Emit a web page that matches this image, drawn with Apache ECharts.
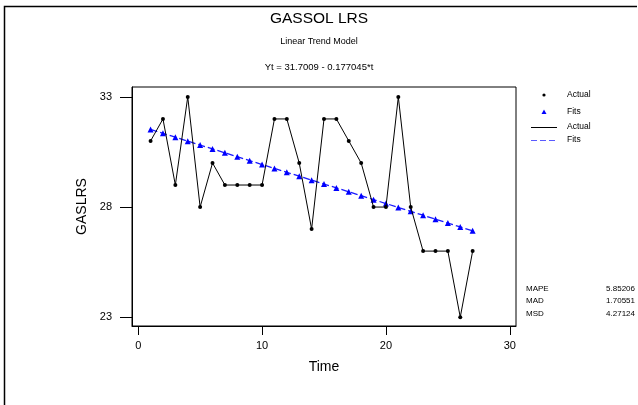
<!DOCTYPE html>
<html>
<head>
<meta charset="utf-8">
<script src="https://cdn.jsdelivr.net/npm/echarts@6/dist/echarts.min.js"></script>
<style>
html,body{margin:0;padding:0;background:#fff;}
#chart{width:638px;height:405px;}
</style>
</head>
<body>
<div id="chart"></div>
<script>
const timeIdx = [1,2,3,4,5,6,7,8,9,10,11,12,13,14,15,16,17,18,19,20,21,22,23,24,25,26,27];
const actualValues = [31,32,29,33,28,30,29,29,29,29,32,32,30,27,32,32,31,30,28,28,33,28,26,26,26,23,26];
const fitsValues = [31.5239,31.3468,31.1698,30.9927,30.8157,30.6386,30.4616,30.2845,30.1075,29.9305,29.7534,29.5764,29.3993,29.2223,29.0452,28.8682,28.6911,28.5141,28.3370,28.1600,27.9830,27.8059,27.6289,27.4518,27.2748,27.0977,26.9207];
const xTicks = [0,10,20,30];
const yTicks = [23,28,33];
const statNames = ['MAPE','MAD','MSD'];
const statValues = ['5.85206','1.70551','4.27124'];
const titleText = 'GASSOL LRS';
const subtitle1 = 'Linear Trend Model';
const subtitle2 = 'Yt = 31.7009 - 0.177045*t';

const F = "'Liberation Sans Narrow','Liberation Sans',Arial,sans-serif";
const chart = echarts.init(document.getElementById('chart'), null, {renderer:'canvas'});

const graphics = [
  {type:'polyline', shape:{points:[[4.5,405],[4.5,6.5],[637,6.5]]}, style:{stroke:'#000',lineWidth:1.5,fill:null}, silent:true},
  // legend
  {type:'circle', shape:{cx:544,cy:95,r:1.6}, style:{fill:'#000'}},
  {type:'text', style:{x:567,y:95,text:'Actual',font:'8.5px '+F,fill:'#000',verticalAlign:'middle'}},
  {type:'polygon', shape:{points:[[544,109.5],[541.5,114],[546.5,114]]}, style:{fill:'#0000ff'}},
  {type:'text', style:{x:567,y:112,text:'Fits',font:'8.5px '+F,fill:'#000',verticalAlign:'middle'}},
  {type:'line', shape:{x1:531,y1:127.5,x2:557,y2:127.5}, style:{stroke:'#000',lineWidth:1}},
  {type:'text', style:{x:567,y:127,text:'Actual',font:'8.5px '+F,fill:'#000',verticalAlign:'middle'}},
  {type:'line', shape:{x1:531,y1:140.5,x2:557,y2:140.5}, style:{stroke:'#5a5aff',lineWidth:1,lineDash:[6,3]}},
  {type:'text', style:{x:567,y:140,text:'Fits',font:'8.5px '+F,fill:'#000',verticalAlign:'middle'}}
];
const statY = [289,301,314];
statNames.forEach((n,i)=>{
  graphics.push({type:'text', style:{x:526,y:statY[i],text:n,font:'8px '+F,fill:'#000',verticalAlign:'middle'}});
  graphics.push({type:'text', style:{x:635,y:statY[i],text:statValues[i],font:'8px '+F,fill:'#000',verticalAlign:'middle',align:'right'}});
});

const option = {
  animation:false,
  backgroundColor:'#fff',
  title:[
    {text:titleText, left:'center', top:6, textStyle:{fontFamily:F,fontSize:15.5,fontWeight:'normal',color:'#000'}},
    {text:subtitle1, left:'center', top:32, textStyle:{fontFamily:F,fontSize:9,fontWeight:'normal',color:'#000'}},
    {text:subtitle2, left:'center', top:57, textStyle:{fontFamily:F,fontSize:9.5,fontWeight:'normal',color:'#000'}}
  ],
  grid:{left:132, top:87, width:384, height:239, show:true, borderColor:'#000', borderWidth:1, backgroundColor:'transparent'},
  xAxis:{
    type:'value', min:-0.5, max:30.5,
    name:'Time', nameLocation:'middle', nameGap:34,
    nameTextStyle:{fontFamily:F,fontSize:14,color:'#000'},
    axisLine:{show:true,onZero:false,lineStyle:{color:'#000',width:1}},
    axisTick:{show:true,inside:false,length:9,customValues:xTicks,lineStyle:{color:'#000'}},
    axisLabel:{show:true,margin:14,customValues:xTicks,fontFamily:F,fontSize:11,color:'#000'},
    splitLine:{show:false}
  },
  yAxis:{
    type:'value', min:22.6, max:33.45,
    name:'GASLRS', nameLocation:'middle', nameGap:38,
    nameTextStyle:{fontFamily:F,fontSize:14,color:'#000'},
    axisLine:{show:true,onZero:false,lineStyle:{color:'#000',width:1}},
    axisTick:{show:true,inside:false,length:12,customValues:yTicks,lineStyle:{color:'#000'}},
    axisLabel:{show:true,margin:20,customValues:yTicks,fontFamily:F,fontSize:11,color:'#000'},
    splitLine:{show:false}
  },
  series:[
    {
      name:'Fits', type:'line',
      data: timeIdx.map((t,i)=>[t,fitsValues[i]]),
      symbol:'triangle', symbolSize:6, showSymbol:true,
      itemStyle:{color:'#0000ff'},
      lineStyle:{color:'#1a1aff',width:1.3,type:[7,3]},
      z:2
    },
    {
      name:'Actual', type:'line',
      data: timeIdx.map((t,i)=>[t,actualValues[i]]),
      symbol:'circle', symbolSize:4, showSymbol:true,
      itemStyle:{color:'#000'},
      lineStyle:{color:'#000',width:1},
      z:3
    }
  ],
  graphic: graphics
};
chart.setOption(option);
</script>
</body>
</html>
